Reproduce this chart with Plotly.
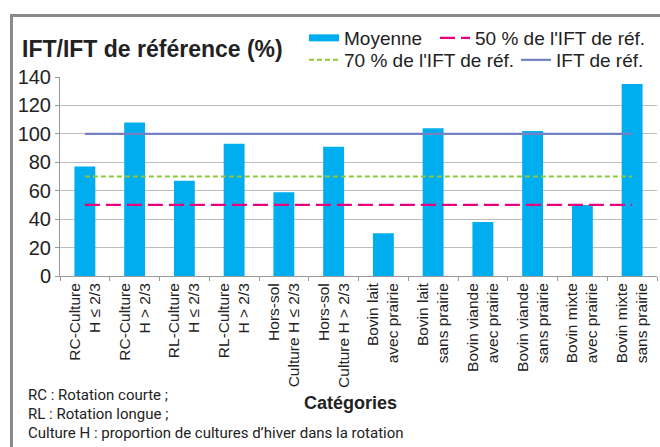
import plotly.graph_objects as go

# ---- data ----
categories = [
    "RC-Culture<br>H ≤ 2/3",
    "RC-Culture<br>H > 2/3",
    "RL-Culture<br>H ≤ 2/3",
    "RL-Culture<br>H > 2/3",
    "Hors-sol<br>Culture H ≤ 2/3",
    "Hors-sol<br>Culture H > 2/3",
    "Bovin lait<br>avec prairie",
    "Bovin lait<br>sans prairie",
    "Bovin viande<br>avec prairie",
    "Bovin viande<br>sans prairie",
    "Bovin mixte<br>avec prairie",
    "Bovin mixte<br>sans prairie",
]
moyenne = [77, 108, 67, 93, 59, 91, 30, 104, 38, 102, 50, 135]
ref_50 = 50
ref_70 = 70
ref_100 = 100
y_ticks = [0, 20, 40, 60, 80, 100, 120, 140]

title_text = "IFT/IFT de référence (%)"
xaxis_title = "Catégories"
footnotes = [
    "RC : Rotation courte ;",
    "RL : Rotation longue ;",
    "Culture H : proportion de cultures d’hiver dans la rotation",
]

# ---- layout geometry (pixels) ----
W, H = 660, 447
L, R, T, B = 60, 3, 77, 171
PW = W - L - R
PH = H - T - B


def px(x):
    return (x - L) / PW


def py(y):
    return (H - B - y) / PH


BAR_C = "#00AEEF"
MAG = "#E6007E"
GRN = "#8DC63F"
BLU = "#7480C2"
FONT = "Liberation Sans, Arial, sans-serif"

fig = go.Figure()

fig.add_trace(go.Bar(
    x=categories, y=moyenne, marker=dict(color=BAR_C, line=dict(width=0)),
    width=0.42, showlegend=False, name="Moyenne",
))
# legend proxy for bars (wide rectangle symbol)
fig.add_trace(go.Scatter(
    x=[None], y=[None], mode="lines", line=dict(color=BAR_C, width=7),
    name="Moyenne", legend="legend",
))
fig.add_trace(go.Scatter(
    x=categories, y=[ref_50] * len(categories), mode="lines",
    line=dict(color=MAG, width=2.2, dash="15px,6px"),
    name="50 % de l'IFT de réf.", legend="legend2",
))
fig.add_trace(go.Scatter(
    x=categories, y=[ref_70] * len(categories), mode="lines",
    line=dict(color=GRN, width=2, dash="5px,3px"),
    name="70 % de l'IFT de réf.", legend="legend3",
))
fig.add_trace(go.Scatter(
    x=categories, y=[ref_100] * len(categories), mode="lines",
    line=dict(color=BLU, width=2.2),
    name="IFT de réf.", legend="legend4",
))

leg_common = dict(orientation="h", xanchor="left", yanchor="middle",
                  bgcolor="rgba(0,0,0,0)", borderwidth=0,
                  font=dict(family=FONT, size=19, color="#222"),
                  itemsizing="trace", tracegroupgap=0)

fig.update_layout(
    width=W, height=H,
    margin=dict(l=L, r=R, t=T, b=B, pad=0),
    paper_bgcolor="white", plot_bgcolor="white",
    font=dict(family=FONT, color="#222"),
    legend=dict(x=px(304), y=py(38), **leg_common),
    legend2=dict(x=px(435), y=py(38), **leg_common),
    legend3=dict(x=px(304), y=py(60), **leg_common),
    legend4=dict(x=px(516), y=py(60), **leg_common),
    xaxis=dict(
        type="category", tickangle=-90, tickfont=dict(family=FONT, size=15.5, color="#222"),
        showline=True, linecolor="#999", linewidth=1, ticks="outside", ticklen=4,
        tickcolor="#999", tickson="boundaries", showgrid=False, range=[-0.5, 11.5],
    ),
    yaxis=dict(
        range=[0, 140], tickvals=y_ticks, tickfont=dict(family=FONT, size=20, color="#222"),
        showline=True, linecolor="#999", linewidth=1, ticks="outside", ticklen=4,
        tickcolor="#999", showgrid=True, gridcolor="#BDBDBD", gridwidth=1,
        zeroline=False,
    ),
    bargap=0.58,
)

annotations = [
    dict(text="<b>" + title_text + "</b>", x=px(20), y=py(49), xref="paper", yref="paper",
         xanchor="left", yanchor="middle", showarrow=False,
         font=dict(family=FONT, size=23, color="#222")),
    dict(text="<b>" + xaxis_title + "</b>", x=px(350), y=py(403), xref="paper", yref="paper",
         xanchor="center", yanchor="middle", showarrow=False,
         font=dict(family=FONT, size=18, color="#222")),
]
for i, t in enumerate(footnotes):
    annotations.append(dict(text=t, x=px(26), y=py(395 + 19 * i), xref="paper", yref="paper",
                            xanchor="left", yanchor="middle", showarrow=False,
                            font=dict(family="Roboto, sans-serif", size=15, color="#222")))
fig.update_layout(annotations=annotations)

fig.add_shape(type="rect", xref="paper", yref="paper",
              x0=px(11.5), y0=py(470), x1=px(680), y1=py(15.5),
              line=dict(color="#8A8A8A", width=3), fillcolor="rgba(0,0,0,0)", layer="below")

fig.write_html("out.html", config={"displayModeBar": False},
               post_script="document.body.style.margin='0px';")
